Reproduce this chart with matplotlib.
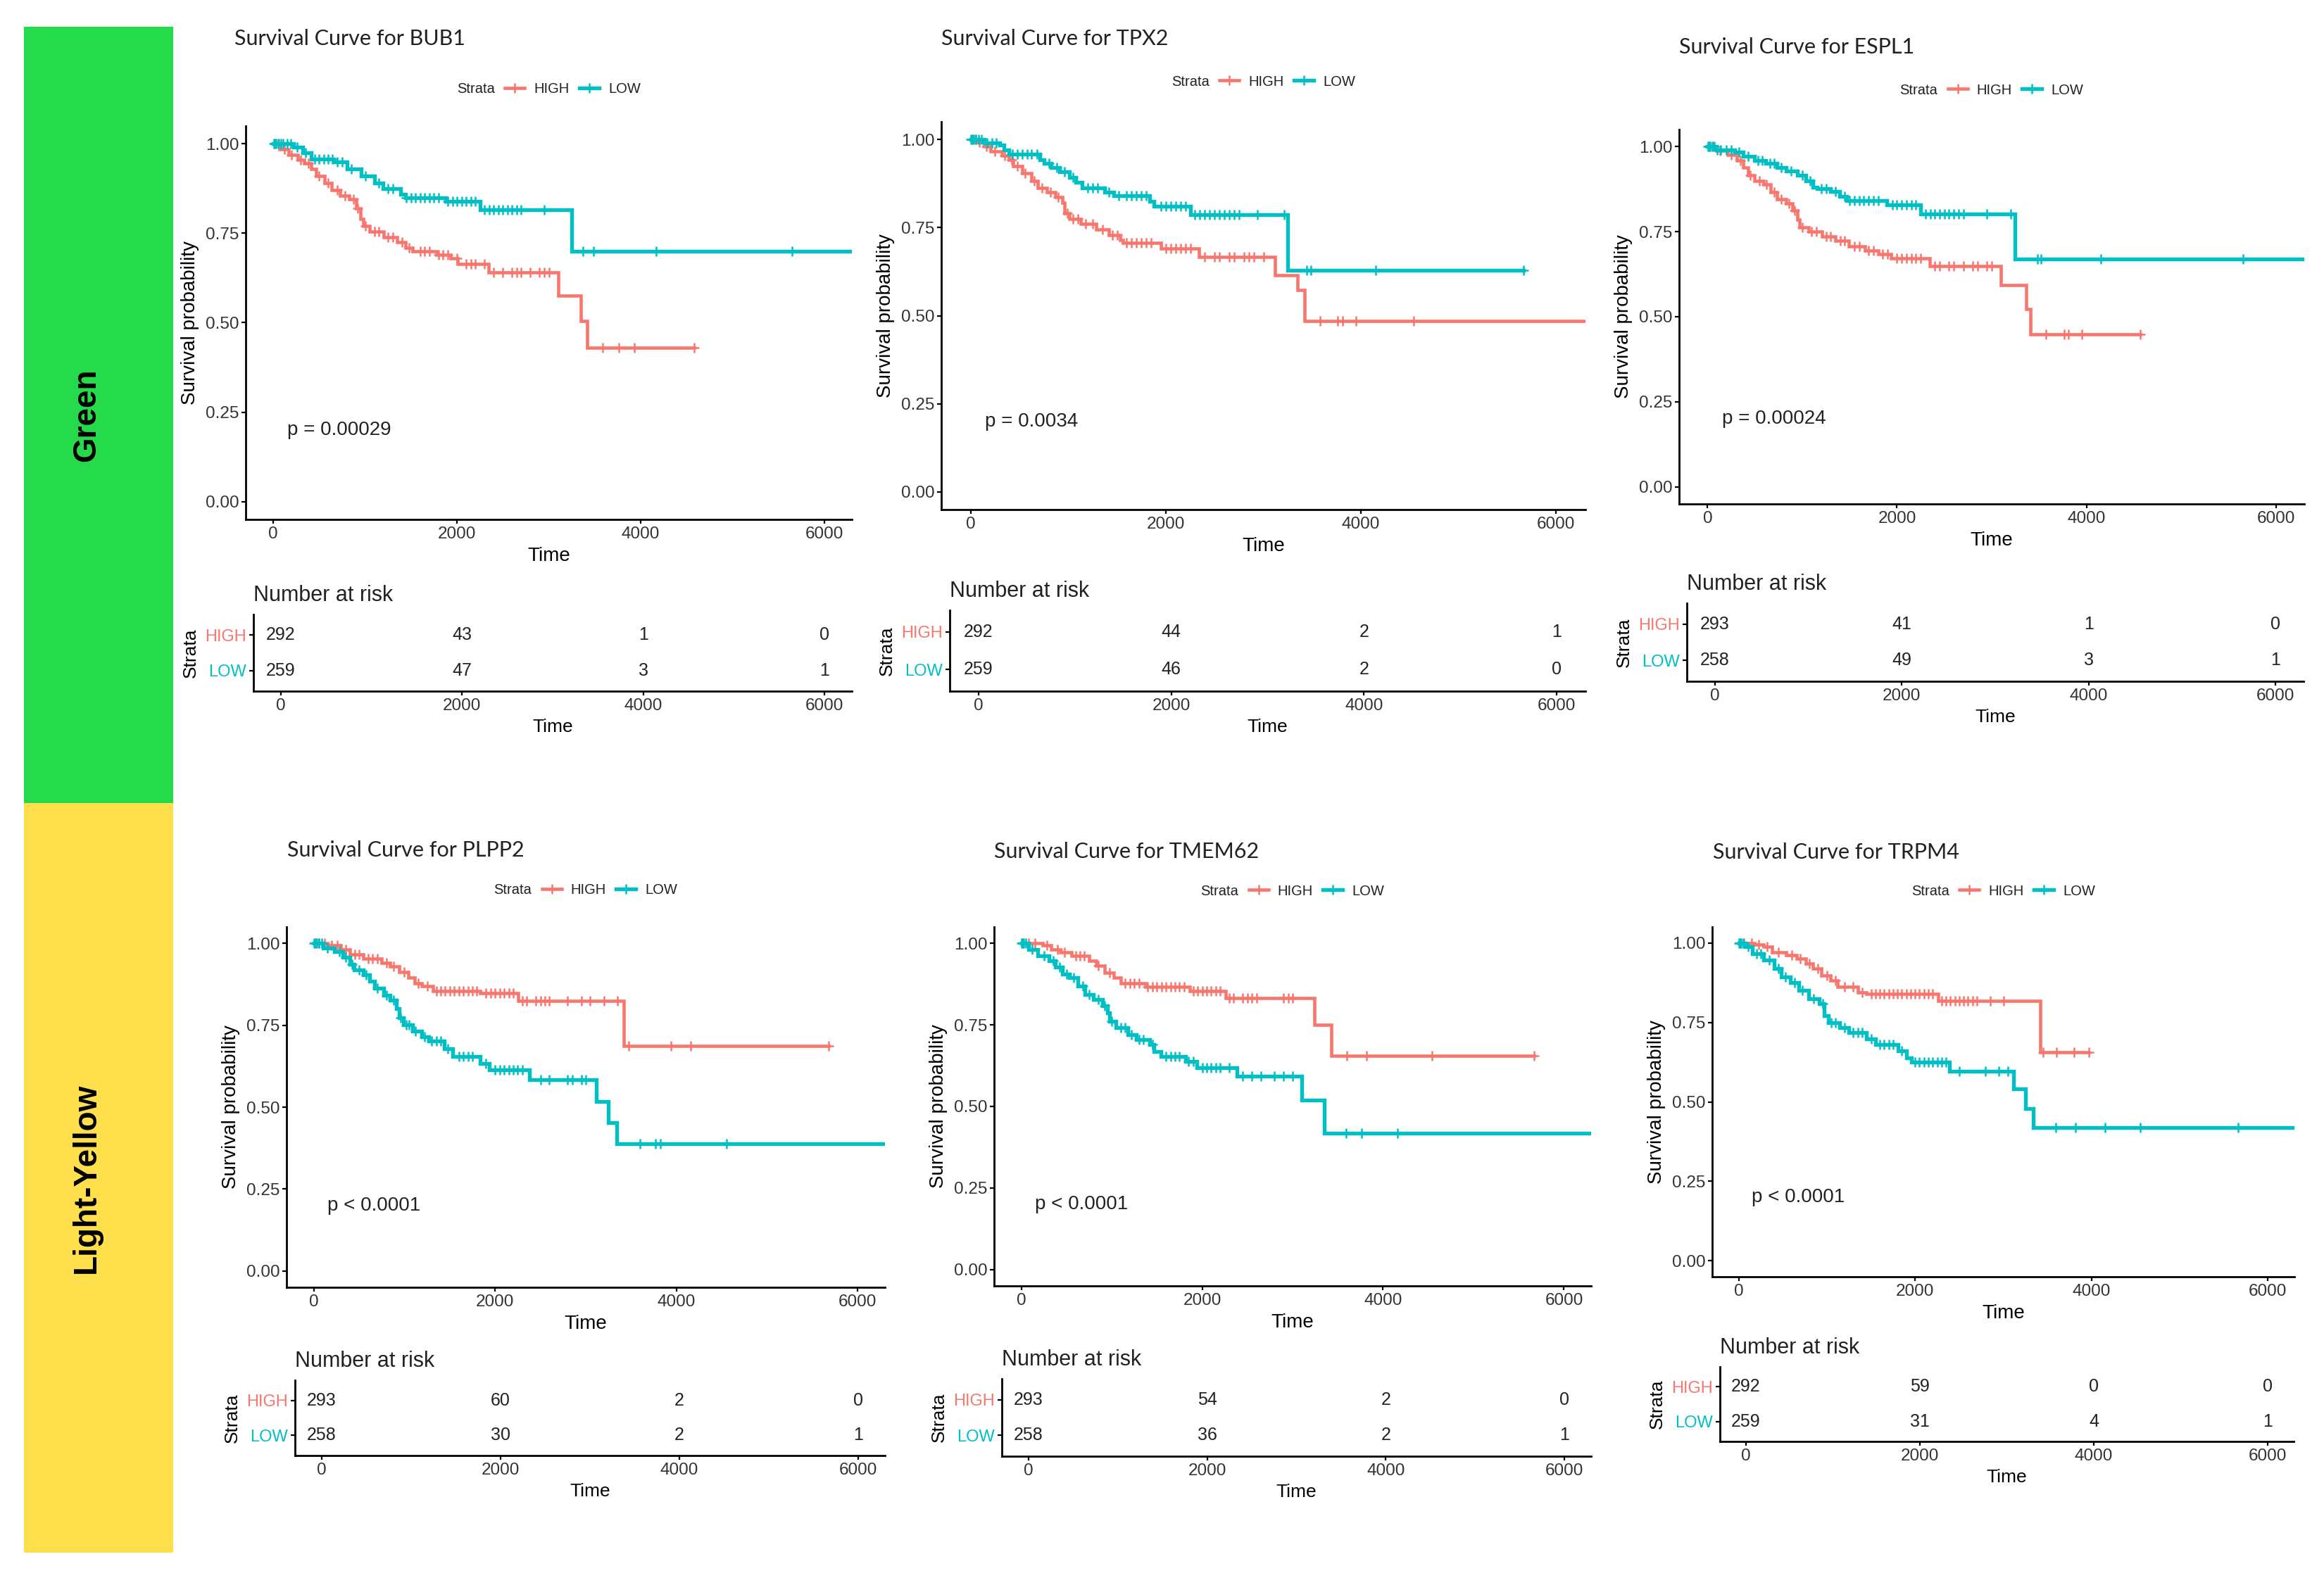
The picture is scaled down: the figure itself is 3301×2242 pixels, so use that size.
import numpy as np
import matplotlib
matplotlib.use('Agg')
import matplotlib.pyplot as plt
from matplotlib.lines import Line2D
from matplotlib.patches import Rectangle

W, H = 3301, 2242
DPI = 100
FONT = ['Liberation Sans', 'DejaVu Sans']
TITLE_FONT = ['Lato', 'DejaVu Sans']
C_HIGH = '#F8766D'
C_LOW = '#00BFC4'

# ---------------- data ----------------
genes = ['BUB1', 'TPX2', 'ESPL1', 'PLPP2', 'TMEM62', 'TRPM4']
groups = ['Green', 'Light-Yellow']
pvals = ['p = 0.00029', 'p = 0.0034', 'p = 0.00024', 'p < 0.0001', 'p < 0.0001', 'p < 0.0001']
risk_times = [0, 2000, 4000, 6000]
risk_high = [[292, 43, 1, 0], [292, 44, 2, 1], [293, 41, 1, 0],
             [293, 60, 2, 0], [293, 54, 2, 0], [292, 59, 0, 0]]
risk_low = [[259, 47, 3, 1], [259, 46, 2, 0], [258, 49, 3, 1],
            [258, 30, 2, 1], [258, 36, 2, 1], [259, 31, 4, 1]]

# BUB1
bub1_high_t = [0, 70, 170, 270, 340, 415, 465, 560, 635, 730, 830, 905, 950, 980, 1050, 1200, 1345, 1440, 1515, 1780, 1930, 2005, 2345, 3105, 3345, 3420]
bub1_high_s = [1, .985, .97, .955, .945, .93, .91, .89, .87, .855, .845, .82, .79, .77, .755, .74, .725, .71, .70, .69, .68, .665, .64, .575, .505, .43]
bub1_high_end = 4580
bub1_high_cens = [20, 60, 120, 200, 300, 380, 500, 600, 700, 780, 870, 920, 1000, 1100, 1150, 1250, 1300, 1400, 1480, 1600, 1650, 1700, 1800, 1850, 1900, 2000, 2100, 2150, 2200, 2300, 2400, 2500, 2600, 2650, 2700, 2800, 2900, 2950, 3000, 3590, 3760, 3930, 4580]
bub1_low_t = [0, 220, 320, 415, 660, 805, 955, 1100, 1195, 1390, 1440, 1880, 2250, 3250]
bub1_low_s = [1, .99, .975, .958, .95, .93, .91, .89, .875, .86, .85, .84, .815, .70]
bub1_low_end = 6300
bub1_low_cens = [5, 15, 30, 50, 80, 110, 150, 190, 260, 350, 450, 500, 550, 600, 640, 700, 750, 850, 1000, 1150, 1250, 1300, 1450, 1500, 1550, 1600, 1650, 1700, 1750, 1800, 1900, 1950, 2000, 2050, 2100, 2150, 2200, 2300, 2350, 2400, 2450, 2500, 2550, 2600, 2650, 2700, 2950, 3370, 3490, 4170, 5650]

# TPX2
tpx2_high_t = [0, 70, 140, 205, 320, 390, 435, 530, 620, 690, 780, 870, 940, 965, 1010, 1125, 1285, 1420, 1535, 1560, 1950, 2340, 3120, 3350, 3420]
tpx2_high_s = [1, .992, .98, .966, .954, .943, .924, .905, .882, .863, .851, .836, .821, .79, .775, .76, .744, .729, .714, .706, .691, .666, .615, .573, .485]
tpx2_high_end = 6300
tpx2_high_cens = [15, 50, 90, 160, 250, 350, 420, 480, 560, 650, 730, 820, 900, 990, 1050, 1100, 1180, 1250, 1350, 1450, 1500, 1600, 1650, 1700, 1750, 1800, 1850, 2000, 2050, 2100, 2150, 2200, 2250, 2400, 2500, 2550, 2650, 2700, 2800, 2850, 2900, 3000, 3580, 3760, 3810, 3945, 4540]
tpx2_low_t = [0, 140, 300, 345, 390, 710, 755, 825, 915, 1010, 1080, 1145, 1375, 1470, 1835, 1880, 2250, 3250]
tpx2_low_s = [1, .99, .985, .97, .958, .943, .933, .92, .908, .893, .878, .862, .851, .84, .824, .811, .786, .628]
tpx2_low_end = 5665
tpx2_low_cens = [5, 20, 35, 55, 80, 110, 170, 220, 260, 430, 480, 530, 580, 620, 680, 800, 880, 960, 1050, 1200, 1250, 1300, 1420, 1520, 1600, 1650, 1700, 1750, 1800, 1950, 2000, 2050, 2100, 2150, 2200, 2300, 2350, 2400, 2450, 2500, 2550, 2600, 2650, 2700, 2750, 2940, 3210, 3440, 3490, 4150, 5665]

# ESPL1
espl1_high_t = [0, 95, 215, 310, 380, 425, 495, 590, 665, 735, 830, 900, 945, 970, 1065, 1210, 1350, 1490, 1660, 1800, 1940, 2345, 3100, 3365, 3410]
espl1_high_s = [1, .987, .975, .959, .939, .916, .90, .888, .865, .845, .833, .813, .786, .762, .75, .735, .723, .707, .695, .683, .672, .648, .593, .522, .449]
espl1_high_end = 4570
espl1_high_cens = [20, 60, 130, 250, 350, 450, 550, 620, 700, 780, 860, 920, 1000, 1100, 1150, 1250, 1300, 1400, 1450, 1550, 1600, 1700, 1750, 1850, 1900, 2000, 2050, 2100, 2150, 2200, 2250, 2400, 2450, 2550, 2600, 2700, 2800, 2850, 2950, 3000, 3575, 3765, 3810, 3955, 4570]
espl1_low_t = [0, 95, 285, 380, 495, 615, 735, 830, 945, 1040, 1115, 1160, 1300, 1395, 1470, 1895, 2250, 3245]
espl1_low_s = [1, .99, .984, .971, .959, .951, .939, .928, .916, .90, .88, .876, .869, .853, .841, .829, .802, .67]
espl1_low_end = 6300
espl1_low_cens = [5, 15, 30, 50, 70, 100, 140, 200, 250, 330, 430, 530, 580, 660, 700, 780, 880, 1000, 1080, 1200, 1250, 1350, 1450, 1500, 1550, 1600, 1650, 1700, 1750, 1800, 1950, 2000, 2050, 2100, 2150, 2200, 2300, 2350, 2400, 2450, 2500, 2550, 2600, 2650, 2700, 2950, 3200, 3480, 3520, 4150, 5650]

# PLPP2
plpp2_high_t = [0, 150, 300, 395, 545, 745, 845, 940, 1040, 1115, 1190, 1315, 1835, 2255, 3420]
plpp2_high_s = [1, .994, .982, .966, .953, .941, .929, .912, .896, .879, .87, .855, .847, .824, .687]
plpp2_high_end = 5680
plpp2_high_cens = [20, 60, 120, 200, 260, 350, 450, 500, 600, 650, 700, 800, 880, 1000, 1150, 1250, 1350, 1400, 1450, 1500, 1550, 1600, 1650, 1700, 1750, 1800, 1900, 1950, 2000, 2050, 2100, 2150, 2200, 2300, 2350, 2450, 2500, 2550, 2600, 2800, 2950, 3050, 3200, 3350, 3470, 3940, 4160, 5680]
plpp2_low_t = [0, 100, 225, 320, 395, 445, 545, 620, 670, 770, 845, 915, 940, 990, 1090, 1190, 1265, 1440, 1535, 1835, 1935, 2380, 3115, 3250, 3345]
plpp2_low_s = [1, .986, .974, .957, .937, .92, .904, .884, .863, .842, .826, .801, .773, .752, .732, .715, .703, .678, .654, .633, .613, .584, .518, .453, .389]
plpp2_low_end = 6300
plpp2_low_cens = [5, 15, 30, 60, 90, 150, 280, 350, 420, 500, 580, 700, 800, 880, 960, 1020, 1050, 1120, 1220, 1300, 1350, 1400, 1480, 1600, 1650, 1700, 1750, 1900, 2000, 2050, 2100, 2150, 2200, 2250, 2300, 2500, 2600, 2800, 2850, 2950, 3000, 3595, 3770, 3820, 4550]

# TMEM62
tmem62_high_t = [0, 235, 330, 430, 555, 750, 825, 925, 1025, 1100, 1370, 1865, 2260, 3240, 3425]
tmem62_high_s = [1, .993, .982, .972, .961, .947, .931, .91, .895, .877, .866, .854, .833, .751, .655]
tmem62_high_end = 5670
tmem62_high_cens = [20, 80, 150, 280, 400, 480, 600, 650, 700, 850, 980, 1150, 1200, 1250, 1300, 1400, 1450, 1500, 1550, 1600, 1650, 1700, 1750, 1800, 1900, 1950, 2000, 2050, 2100, 2150, 2200, 2300, 2350, 2450, 2500, 2550, 2600, 2900, 2950, 3000, 3600, 3820, 4540, 5670]
tmem62_low_t = [0, 85, 185, 305, 380, 455, 530, 630, 705, 800, 900, 950, 975, 1050, 1175, 1270, 1420, 1470, 1545, 1815, 1940, 2385, 3105, 3350]
tmem62_low_s = [1, .982, .962, .947, .926, .905, .895, .869, .844, .828, .808, .787, .761, .741, .72, .705, .689, .669, .653, .638, .619, .592, .52, .417]
tmem62_low_end = 6300
tmem62_low_cens = [5, 15, 30, 50, 120, 250, 350, 420, 500, 580, 680, 750, 850, 920, 1000, 1100, 1150, 1220, 1300, 1350, 1450, 1600, 1650, 1700, 1750, 1850, 1900, 2000, 2050, 2100, 2150, 2200, 2300, 2450, 2550, 2650, 2800, 2900, 3000, 3590, 3760, 4160]

# TRPM4
trpm4_high_t = [0, 180, 280, 380, 535, 660, 765, 840, 940, 1040, 1120, 1350, 1450, 2265, 3420]
trpm4_high_s = [1, .995, .987, .971, .961, .95, .935, .919, .898, .882, .861, .845, .84, .818, .657]
trpm4_high_end = 3966
trpm4_high_cens = [20, 60, 150, 230, 320, 450, 600, 700, 800, 900, 1000, 1100, 1200, 1300, 1400, 1500, 1550, 1600, 1650, 1700, 1750, 1800, 1850, 1900, 1950, 2000, 2050, 2100, 2150, 2200, 2300, 2350, 2400, 2450, 2500, 2550, 2600, 2650, 2700, 2850, 3000, 3450, 3600, 3800, 3966]
trpm4_low_t = [0, 75, 155, 280, 405, 485, 585, 685, 790, 915, 965, 1015, 1145, 1245, 1450, 1550, 1805, 1905, 1960, 2390, 3115, 3255, 3340]
trpm4_low_s = [1, .987, .966, .945, .919, .892, .876, .85, .824, .808, .771, .75, .734, .718, .697, .681, .66, .639, .625, .597, .541, .48, .419]
trpm4_low_end = 6300
trpm4_low_cens = [5, 15, 30, 50, 110, 200, 250, 350, 450, 530, 630, 720, 850, 950, 1050, 1100, 1200, 1300, 1350, 1400, 1500, 1600, 1650, 1700, 1750, 1850, 2000, 2050, 2100, 2150, 2200, 2250, 2300, 2350, 2500, 2800, 2950, 3050, 3595, 3815, 4155, 4550, 5660]

high_curves = [
    (bub1_high_t, bub1_high_s, bub1_high_end, bub1_high_cens),
    (tpx2_high_t, tpx2_high_s, tpx2_high_end, tpx2_high_cens),
    (espl1_high_t, espl1_high_s, espl1_high_end, espl1_high_cens),
    (plpp2_high_t, plpp2_high_s, plpp2_high_end, plpp2_high_cens),
    (tmem62_high_t, tmem62_high_s, tmem62_high_end, tmem62_high_cens),
    (trpm4_high_t, trpm4_high_s, trpm4_high_end, trpm4_high_cens),
]
low_curves = [
    (bub1_low_t, bub1_low_s, bub1_low_end, bub1_low_cens),
    (tpx2_low_t, tpx2_low_s, tpx2_low_end, tpx2_low_cens),
    (espl1_low_t, espl1_low_s, espl1_low_end, espl1_low_cens),
    (plpp2_low_t, plpp2_low_s, plpp2_low_end, plpp2_low_cens),
    (tmem62_low_t, tmem62_low_s, tmem62_low_end, tmem62_low_cens),
    (trpm4_low_t, trpm4_low_s, trpm4_low_end, trpm4_low_cens),
]

# ---------------- layout (pixels: left, top, right, bottom) ----------------
MAIN_BOX = [(349, 179, 1210, 738), (1337, 173, 2252, 724), (2385, 184, 3273, 716),
            (407, 1317, 1257, 1829), (1412, 1317, 2260, 1827), (2432, 1317, 3259, 1814)]
RISK_BOX = [(360, 873, 1210, 982), (1349, 867, 2252, 982), (2396, 857, 3272, 968),
            (419, 1961, 1257, 2068), (1423, 1959, 2260, 2069), (2443, 1942, 3258, 2048)]
TITLE_XY = [(333, 55), (1337, 55), (2385, 67), (408, 1208), (1412, 1210), (2433, 1211)]
LEGEND_Y = [127, 116, 128, 1265, 1266, 1266]
SIDE_BOX = [(34, 38, 246, 1141), (34, 1141, 246, 2206)]
SIDE_COL = ['#25DA4B', '#FFDF4B']
SIDE_TEXT_X = 123


def fbox(b):
    L, T, R, B = b
    return [L / W, 1 - B / H, (R - L) / W, (B - T) / H]


fig = plt.figure(figsize=(W / DPI, H / DPI), dpi=DPI)
fig.patch.set_facecolor('white')

# sidebar
for (L, T, R, B), col, lab in zip(SIDE_BOX, SIDE_COL, groups):
    fig.add_artist(Rectangle((L / W, 1 - B / H), (R - L) / W, (B - T) / H,
                             transform=fig.transFigure, facecolor=col, edgecolor='none'))
    fig.text(SIDE_TEXT_X / W, 1 - ((T + B) / 2) / H, lab, rotation=90, ha='center', va='center',
             fontsize=33, fontweight='bold', family=FONT, color='black')

TICK_COL = '#333333'


def style_axes(ax):
    for s in ['top', 'right']:
        ax.spines[s].set_visible(False)
    for s in ['left', 'bottom']:
        ax.spines[s].set_linewidth(2.0)
        ax.spines[s].set_color('black')
    ax.tick_params(direction='out', length=4.5, width=1.6, color='black', pad=2.5,
                   labelsize=17.5, labelcolor=TICK_COL)
    for lab in ax.get_xticklabels() + ax.get_yticklabels():
        lab.set_family(FONT)


def km_draw(ax, t, s, end, cens, color, lw):
    t = np.asarray(t, float)
    s = np.asarray(s, float)
    xs = np.append(t, end)
    ys = np.append(s, s[-1])
    ax.step(xs, ys, where='post', color=color, lw=lw, solid_joinstyle='miter', clip_on=True)
    c = np.asarray(cens, float)
    idx = np.searchsorted(t, c, side='right') - 1
    ax.plot(c, s[idx], linestyle='none', marker='+', ms=10, mew=1.8, color=color, clip_on=True)


for i, g in enumerate(genes):
    ax = fig.add_axes(fbox(MAIN_BOX[i]))
    km_draw(ax, *high_curves[i], C_HIGH, 3.3)
    km_draw(ax, *low_curves[i], C_LOW, 3.9)
    ax.set_xlim(-300, 6300)
    ax.set_ylim(-0.05, 1.05)
    ax.set_xticks(risk_times)
    ax.set_yticks([0, 0.25, 0.5, 0.75, 1.0])
    ax.set_yticklabels(['0.00', '0.25', '0.50', '0.75', '1.00'])
    style_axes(ax)
    ax.set_xlabel('Time', fontsize=20, family=FONT, labelpad=5)
    ax.set_ylabel('Survival probability', fontsize=20, family=FONT, labelpad=6)
    ax.text(150, 0.2, pvals[i], fontsize=20, family=FONT, ha='left', va='center', color='#222222')

    tx, ty = TITLE_XY[i]
    fig.text(tx / W, 1 - ty / H, 'Survival Curve for ' + g, fontsize=22, family=TITLE_FONT,
             ha='left', va='center', color='#222222')

    # legend
    L, T, R, B = MAIN_BOX[i]
    cx = (L + R) / 2
    fs_px = 14.5 * DPI / 72
    shift = (1.4 + 0.65) * fs_px / 2
    handles = [Line2D([], [], color='none'),
               Line2D([], [], color=C_HIGH, lw=3.3, marker='+', ms=10, mew=1.8),
               Line2D([], [], color=C_LOW, lw=3.9, marker='+', ms=10, mew=1.8)]
    leg = fig.legend(handles, ['Strata', 'HIGH', 'LOW'], loc='center', ncol=3,
                     bbox_to_anchor=((cx - shift) / W, 1 - LEGEND_Y[i] / H),
                     frameon=False, handlelength=1.4, handletextpad=0.65, columnspacing=0.7,
                     prop={'family': FONT, 'size': 14.5}, borderpad=0)
    for txt in leg.get_texts():
        txt.set_color('#222222')

    # risk table
    rx = fig.add_axes(fbox(RISK_BOX[i]))
    rx.set_xlim(-300, 6300)
    rx.set_ylim(0.42, 2.58)
    rx.set_xticks(risk_times)
    rx.set_yticks([2, 1])
    rx.set_yticklabels(['HIGH', 'LOW'])
    style_axes(rx)
    rx.tick_params(axis='y', labelsize=17)
    ylabs = rx.get_yticklabels()
    ylabs[0].set_color(C_HIGH)
    ylabs[1].set_color(C_LOW)
    for tt, nh, nl in zip(risk_times, risk_high[i], risk_low[i]):
        rx.text(tt, 2, str(nh), ha='center', va='center', fontsize=18, family=FONT, color='#222222')
        rx.text(tt, 1, str(nl), ha='center', va='center', fontsize=18, family=FONT, color='#222222')
    rx.set_xlabel('Time', fontsize=19, family=FONT, labelpad=5)
    rx.set_ylabel('Strata', fontsize=19, family=FONT, labelpad=6)
    rx.set_title('Number at risk', loc='left', fontsize=22, family=FONT, pad=14, color='#222222')

fig.savefig('out.png', dpi=DPI, facecolor='white')
